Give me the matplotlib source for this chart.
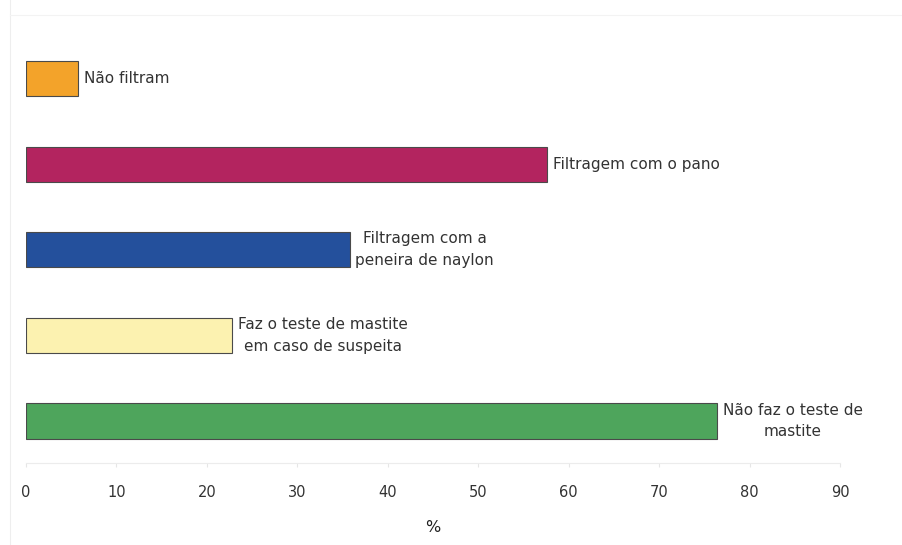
"""
Filtering / mastitis-test practices, horizontal bar chart (%).
"""

import matplotlib
matplotlib.use("Agg")
import matplotlib.pyplot as plt
from matplotlib.lines import Line2D

plt.rcParams["font.family"] = ["DejaVu Sans"]

categories = [
    "Não filtram",
    "Filtragem com o pano",
    "Filtragem com a\npeneira de naylon",
    "Faz o teste de mastite\nem caso de suspeita",
    "Não faz o teste de\nmastite",
]
values = [5.8, 57.6, 35.8, 22.8, 76.4]
colors = ["#F3A32A", "#B3245F", "#24509C", "#FCF2B0", "#4EA55C"]
ticks = [0, 10, 20, 30, 40, 50, 60, 70, 80, 90]

fig = plt.figure(figsize=(9.02, 5.45), dpi=100)
W, H = 902, 545
# axes placed in pixel terms: x 0 at 26px, 90 at 840px; bottom at 463px
ax = fig.add_axes([26 / W, (H - 463) / H, (840 - 26) / W, (463 - 28) / H])

pos = list(range(len(categories)))
ax.barh(pos, values, height=0.41, color=colors, edgecolor="#4a4a4a", linewidth=0.8)

for y, v, lab in zip(pos, values, categories):
    ax.annotate(lab, xy=(v, y), xytext=(4, 0), textcoords="offset points",
                ha="left", va="center", multialignment="center",
                fontsize=11, color="#333333", linespacing=1.55)

ax.set_xlim(0, 90)
ax.set_ylim(4.49, -0.59)
ax.set_yticks([])
ax.set_xticks(ticks)
ax.set_xticklabels([str(t) for t in ticks], fontsize=10.5, color="#333333")
ax.tick_params(axis="x", length=3, color="#e6e6e6", pad=13)
ax.set_xlabel("%", fontsize=11.5, color="#222222", labelpad=14)

for side in ["top", "right", "left"]:
    ax.spines[side].set_visible(False)
ax.spines["bottom"].set_color("#ececec")
ax.spines["bottom"].set_linewidth(0.8)

# faint frame lines from the original screenshot
fig.add_artist(Line2D([10 / W, 10 / W], [0, 1], color="#eeeeee", linewidth=0.8))
fig.add_artist(Line2D([10 / W, 1], [1 - 15 / H, 1 - 15 / H], color="#f3f3f3", linewidth=0.8))

fig.savefig("out.png", dpi=100)
